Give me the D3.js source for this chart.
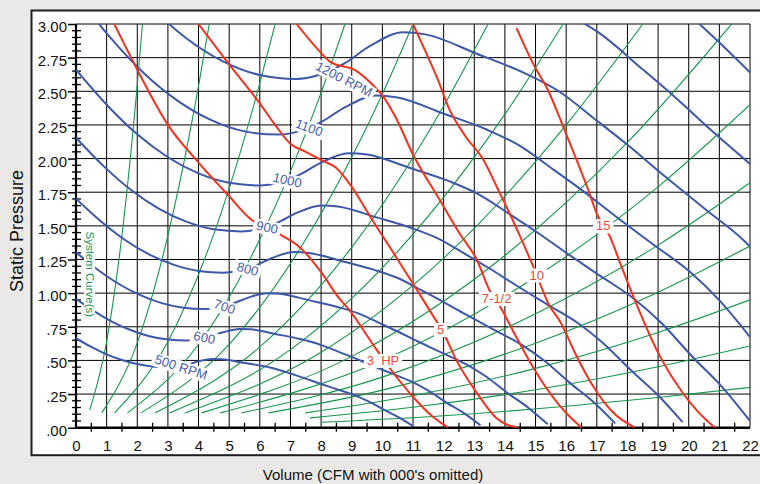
<!DOCTYPE html>
<html>
<head>
<meta charset="utf-8">
<script src="https://cdn.jsdelivr.net/npm/d3@7"></script>
<style>
  body { margin: 0; background: #ebe9e7; }
  svg { display: block; font-family: "Liberation Sans", Arial, sans-serif; }
</style>
</head>
<body>
<div id="chart"></div>
<script>
/* Fan performance chart: RPM curves, HP curves and system curves */

// axis ticks
const xTickValues = [0,1,2,3,4,5,6,7,8,9,10,11,12,13,14,15,16,17,18,19,20,21,22];
const xTickLabels = ["0","1","2","3","4","5","6","7","8","9","10","11","12","13","14","15","16","17","18","19","20","21","22"];
const yTickValues = [0,0.25,0.5,0.75,1,1.25,1.5,1.75,2,2.25,2.5,2.75,3];
const yTickLabels = [".00",".25",".50",".75","1.00","1.25","1.50","1.75","2.00","2.25","2.50","2.75","3.00"];

// fan curves, [volume, static pressure]
const rpm500 = [[0,0.665],[0.5,0.60],[1,0.545],[1.5,0.503],[2,0.473],[2.5,0.455],[3,0.45],[3.3,0.455],[3.65,0.47],[4,0.493],[4.45,0.51],[4.75,0.508],[5.45,0.483],[6.1,0.458],[6.55,0.435],[7.1,0.395],[7.5,0.365],[8,0.325],[8.55,0.283],[9.1,0.24],[9.55,0.195],[10.08,0.13],[10.55,0.075],[11,0.0125]];
const rpm600 = [[0,0.958],[0.6,0.864],[1.2,0.785],[1.8,0.724],[2.4,0.68],[3,0.655],[3.6,0.648],[3.96,0.655],[4.38,0.677],[4.8,0.709],[5.34,0.734],[5.7,0.731],[6.54,0.695],[7.32,0.659],[7.86,0.626],[8.52,0.569],[9,0.526],[9.6,0.468],[10.26,0.407],[10.92,0.346],[11.46,0.281],[12.09,0.187],[12.66,0.108],[13.2,0.018]];
const rpm700 = [[0,1.303],[0.7,1.176],[1.4,1.068],[2.1,0.985],[2.8,0.926],[3.5,0.892],[4.2,0.882],[4.62,0.892],[5.11,0.921],[5.6,0.965],[6.23,1.0],[6.65,0.995],[7.63,0.946],[8.54,0.897],[9.17,0.853],[9.94,0.774],[10.5,0.715],[11.2,0.637],[11.97,0.554],[12.74,0.47],[13.37,0.382],[14.1,0.255],[14.77,0.147],[15.4,0.025]];
const rpm800 = [[0,1.702],[0.8,1.536],[1.6,1.395],[2.4,1.286],[3.2,1.21],[4,1.165],[4.8,1.152],[5.28,1.165],[5.84,1.203],[6.4,1.261],[7.12,1.306],[7.6,1.299],[8.72,1.235],[9.76,1.171],[10.48,1.114],[11.36,1.011],[12,0.934],[12.8,0.832],[13.68,0.723],[14.56,0.614],[15.28,0.499],[16.12,0.333],[16.88,0.192],[17.6,0.032]];
const rpm900 = [[0,2.155],[0.9,1.944],[1.8,1.766],[2.7,1.628],[3.6,1.531],[4.5,1.474],[5.4,1.458],[5.94,1.474],[6.57,1.523],[7.2,1.596],[8.01,1.652],[8.55,1.644],[9.81,1.563],[10.98,1.482],[11.79,1.409],[12.78,1.28],[13.5,1.183],[14.4,1.053],[15.39,0.915],[16.38,0.778],[17.19,0.632],[18.14,0.421],[18.99,0.243],[19.8,0.041]];
const rpm1000 = [[0,2.66],[1,2.40],[2,2.18],[3,2.01],[4,1.89],[5,1.82],[6,1.80],[6.6,1.82],[7.3,1.88],[8,1.97],[8.9,2.04],[9.5,2.03],[10.9,1.93],[12.2,1.83],[13.1,1.74],[14.2,1.58],[15,1.46],[16,1.30],[17.1,1.13],[18.2,0.96],[19.1,0.78],[20.15,0.52],[21.1,0.30],[22,0.05]];
const rpm1100 = [[0,3.219],[1.1,2.904],[2.2,2.638],[3.3,2.432],[4.4,2.287],[5.5,2.202],[6.6,2.178],[7.26,2.202],[8.03,2.275],[8.8,2.384],[9.79,2.468],[10.45,2.456],[11.99,2.335],[13.42,2.214],[14.41,2.105],[15.62,1.912],[16.5,1.767],[17.6,1.573],[18.81,1.367],[20.02,1.162],[21.01,0.944],[22,0.674]];
const rpm1200 = [[0,3.83],[1.2,3.456],[2.4,3.139],[3.6,2.894],[4.8,2.722],[6,2.621],[7.2,2.592],[7.92,2.621],[8.76,2.707],[9.6,2.837],[10.68,2.938],[11.4,2.923],[13.08,2.779],[14.64,2.635],[15.72,2.506],[17.04,2.275],[18,2.102],[19.2,1.872],[20.52,1.627],[21.84,1.382],[22,1.345]];
const rpm1300 = [[14.17,3.262],[15.86,3.093],[17.03,2.941],[18.46,2.67],[19.5,2.467],[20.8,2.197],[22,1.96]];
const rpm1400 = [[18.6,3.35],[19.88,3.097],[21,2.862],[22,2.64]];

// horsepower curves
const hp3 = [[1.25,3.0],[2,2.66],[3,2.25],[4,1.97],[5,1.72],[5.76,1.54],[6.2,1.49],[6.71,1.43],[7.31,1.34],[8.02,1.15],[8.56,0.97],[8.94,0.87],[9.6,0.65],[10.25,0.44],[11.0,0.23],[11.6,0.09],[12.15,0]];
const hp5 = [[4.0,3.0],[5,2.70],[6,2.41],[6.5,2.25],[7,2.11],[7.5,2.05],[8,1.99],[8.5,1.93],[9,1.79],[9.6,1.57],[10.36,1.30],[11,1.07],[11.55,0.87],[12.05,0.68],[12.42,0.50],[13.08,0.26],[13.73,0.07],[14.43,0]];
const hp7half = [[7.2,3.0],[8.02,2.78],[8.29,2.72],[9.16,2.65],[9.76,2.53],[10.03,2.46],[10.47,2.29],[11.0,2.03],[11.88,1.69],[12.5,1.45],[13.08,1.25],[13.5,1.02],[13.84,0.90],[14.38,0.67],[14.92,0.45],[15.4,0.28],[15.8,0.16],[16.5,0]];
const hp10 = [[11.0,3.0],[11.4,2.80],[11.77,2.61],[12.2,2.36],[12.7,2.17],[13.3,1.99],[13.84,1.74],[14.16,1.59],[14.5,1.42],[14.92,1.20],[15.47,0.90],[15.8,0.79],[16.3,0.55],[16.9,0.30],[17.5,0.12],[18.24,0]];
const hp15 = [[14.38,2.97],[14.98,2.68],[15.36,2.53],[15.9,2.24],[16.34,1.99],[16.7,1.78],[17.0,1.59],[17.43,1.42],[17.8,1.20],[18.2,0.97],[19.06,0.53],[19.8,0.26],[20.3,0.12],[20.86,0]];

// system curves
const sys1 = [[0.45,0.13],[1.0,0.64],[1.5,1.43],[2.0,2.55],[2.17,3.0]];
const sys2 = [[0.84,0.11],[2,0.63],[3,1.43],[4,2.54],[4.35,3.0]];
const sys3 = [[1.26,0.11],[3,0.64],[4.5,1.44],[6,2.56],[6.5,3.0]];
const sys4 = [[1.68,0.11],[4,0.62],[6,1.40],[8,2.49],[8.78,3.0]];
const sys5 = [[2.12,0.11],[5,0.62],[7.5,1.40],[10,2.48],[11,3.0]];
const sys6 = [[2.58,0.11],[6,0.60],[9,1.34],[12,2.39],[13.45,3.0]];
const sys7 = [[3.05,0.11],[7,0.58],[10.5,1.31],[14,2.33],[15.9,3.0]];
const sys8 = [[3.55,0.11],[8,0.56],[12,1.26],[16,2.25],[18.5,3.0]];
const sys9 = [[4.1,0.11],[9,0.53],[14,1.28],[18,2.12],[21.4,3.0]];
const sys10 = [[4.71,0.11],[10,0.50],[15,1.12],[19,1.79],[22,2.40]];
const sys11 = [[5.41,0.11],[10,0.376],[15,0.846],[19,1.357],[22,1.82]];
const sys12 = [[6.28,0.11],[10,0.279],[15,0.628],[19,1.007],[22,1.35]];
const sys13 = [[7.49,0.11],[11,0.237],[15,0.441],[19,0.708],[22,0.95]];
const sys14 = [[7.64,0.073],[11,0.152],[15,0.282],[19,0.453],[22,0.607]];
const sys15 = [[8,0.04],[12,0.089],[16,0.159],[19,0.224],[22,0.30]];

// curve labels, anchored in chart units
const rpmLabels = [
    { text: "1200 RPM", x: 8.75, y: 2.59, angle: 27 },
    { text: "1100", x: 7.61, y: 2.23, angle: 20 },
    { text: "1000", x: 6.90, y: 1.84, angle: 13 },
    { text: "900", x: 6.24, y: 1.49, angle: 12 },
    { text: "800", x: 5.60, y: 1.18, angle: 15 },
    { text: "700", x: 4.85, y: 0.90, angle: 20 },
    { text: "600", x: 4.19, y: 0.67, angle: 12 },
    { text: "500 RPM", x: 3.43, y: 0.45, angle: 18 }
];
const hpLabels = [
    { text: "3  HP", x: 10.02, y: 0.50 },
    { text: "5", x: 11.90, y: 0.73 },
    { text: "7-1/2", x: 13.73, y: 0.96 },
    { text: "10", x: 15.04, y: 1.135 },
    { text: "15", x: 17.21, y: 1.50 }
];

const fanCurves = [rpm500, rpm600, rpm700, rpm800, rpm900, rpm1000, rpm1100, rpm1200, rpm1300, rpm1400];
const hpCurves = [hp3, hp5, hp7half, hp10, hp15];
const sysCurves = [sys1, sys2, sys3, sys4, sys5, sys6, sys7, sys8, sys9, sys10, sys11, sys12, sys13, sys14, sys15];

const width = 760,
    height = 484,
    margin = ({ top: 24, right: 10, bottom: 56.3, left: 76 });

const blue = "#3d58a8", red = "#f0321e", green = "#15964c";

let svg = d3.select("#chart")
    .append("svg")
    .attr("width", width)
    .attr("height", height);

// outer panel
svg.append("rect")
    .attr("x", 31.5).attr("y", 10.5)
    .attr("width", 760).attr("height", 444.7)
    .attr("fill", "white")
    .attr("stroke", "#1e1e1e")
    .attr("stroke-width", 2);

let x = d3.scaleLinear()
    .domain([0, 22])
    .range([margin.left, 750]);

let y = d3.scaleLinear()
    .domain([0, 3])
    .range([height - margin.bottom, margin.top]);

svg.append("defs").append("clipPath")
    .attr("id", "plot")
    .append("rect")
    .attr("x", x(0)).attr("y", y(3))
    .attr("width", x(22) - x(0)).attr("height", y(0) - y(3));

// grid
let grid = svg.append("g").attr("stroke", "#000").attr("stroke-width", 1);
grid.selectAll(".vx")
    .data(xTickValues.filter(d => d > 0))
    .join("line")
    .attr("x1", d => x(d)).attr("x2", d => x(d))
    .attr("y1", y(3)).attr("y2", y(0));
grid.selectAll(".hy")
    .data(yTickValues.filter(d => d > 0))
    .join("line")
    .attr("x1", x(0)).attr("x2", x(22))
    .attr("y1", d => y(d)).attr("y2", d => y(d));

// y axis
svg.append("g")
    .attr("transform", `translate(${x(0)},0)`)
    .call(d3.axisLeft(y).tickValues(yTickValues).tickFormat((d, i) => yTickLabels[i]).tickSize(8).tickPadding(1))
    .call(g => g.select(".domain").remove())
    .call(g => g.selectAll("line").attr("stroke", "#000").attr("stroke-width", 1.5))
    .call(g => g.selectAll("text").attr("font-size", 15).attr("fill", "#111").attr("dy", "0.5em"));

// minor y ticks every .05
let yMinor = d3.range(1, 60).map(i => i * 0.05).filter(v => Math.abs(v * 4 - Math.round(v * 4)) > 0.01);
svg.append("g").selectAll("line")
    .data(yMinor)
    .join("line")
    .attr("x1", x(0) - 4).attr("x2", x(0) + 5)
    .attr("y1", d => y(d)).attr("y2", d => y(d))
    .attr("stroke", "#000").attr("stroke-width", 1.3);

// x axis
svg.append("g")
    .attr("transform", `translate(0,${y(0)})`)
    .call(d3.axisBottom(x).tickValues(xTickValues).tickFormat((d, i) => xTickLabels[i]).tickSize(0).tickPadding(12.5))
    .call(g => g.select(".domain").remove())
    .call(g => g.selectAll("text").attr("font-size", 15).attr("fill", "#111"));

// minor x ticks at the halves
svg.append("g").selectAll("line")
    .data(xTickValues.slice(0, -1).map(d => d + 0.5))
    .join("line")
    .attr("x1", d => x(d)).attr("x2", d => x(d))
    .attr("y1", y(0) - 5).attr("y2", y(0) + 4)
    .attr("stroke", "#000").attr("stroke-width", 1.3);

// axis lines
svg.append("line")
    .attr("x1", x(0)).attr("x2", x(0)).attr("y1", y(3)).attr("y2", y(0) + 1)
    .attr("stroke", "#000").attr("stroke-width", 2.2);
svg.append("line")
    .attr("x1", x(0)).attr("x2", x(22)).attr("y1", y(0)).attr("y2", y(0))
    .attr("stroke", "#000").attr("stroke-width", 2.4);

// curves
let line = d3.line()
    .x(d => x(d[0]))
    .y(d => y(d[1]))
    .curve(d3.curveMonotoneX);

let plot = svg.append("g").attr("clip-path", "url(#plot)");

plot.selectAll(".sys")
    .data(sysCurves)
    .join("path")
    .attr("fill", "none")
    .attr("stroke", green)
    .attr("stroke-width", 1.1)
    .attr("d", line);

plot.selectAll(".fan")
    .data(fanCurves)
    .join("path")
    .attr("fill", "none")
    .attr("stroke", blue)
    .attr("stroke-width", 2)
    .attr("d", line);

plot.selectAll(".hp")
    .data(hpCurves)
    .join("path")
    .attr("fill", "none")
    .attr("stroke", red)
    .attr("stroke-width", 2)
    .attr("d", line);

// labels on white boxes
function addLabel(d, color, size, pad) {
    let g = svg.append("g")
        .attr("transform", `translate(${x(d.x)},${y(d.y)}) rotate(${d.angle || 0})`);
    let box = g.append("rect").attr("fill", "white");
    let t = g.append("text")
        .text(d.text)
        .attr("text-anchor", "middle")
        .attr("dy", "0.35em")
        .attr("font-size", size)
        .attr("fill", color)
        .style("white-space", "pre");
    let bb = t.node().getBBox();
    box.attr("x", bb.x - pad).attr("y", bb.y + 1)
        .attr("width", bb.width + pad * 2).attr("height", bb.height - 1);
}

rpmLabels.forEach(d => addLabel(d, "#4660ae", 13, 3));
hpLabels.forEach(d => addLabel(d, "#f04a3a", 13, 3));
addLabel({ text: "System Curve(s)", x: 0.46, y: 1.14, angle: 90 }, "#1a9a4e", 11.5, 1);

// axis titles
svg.append("text")
    .attr("transform", `translate(23,231) rotate(-90)`)
    .attr("text-anchor", "middle")
    .attr("font-size", 18)
    .attr("fill", "#111")
    .text("Static Pressure");

svg.append("text")
    .attr("x", 373)
    .attr("y", 480)
    .attr("text-anchor", "middle")
    .attr("font-size", 15)
    .attr("fill", "#111")
    .text("Volume (CFM with 000's omitted)");
</script>
</body>
</html>
